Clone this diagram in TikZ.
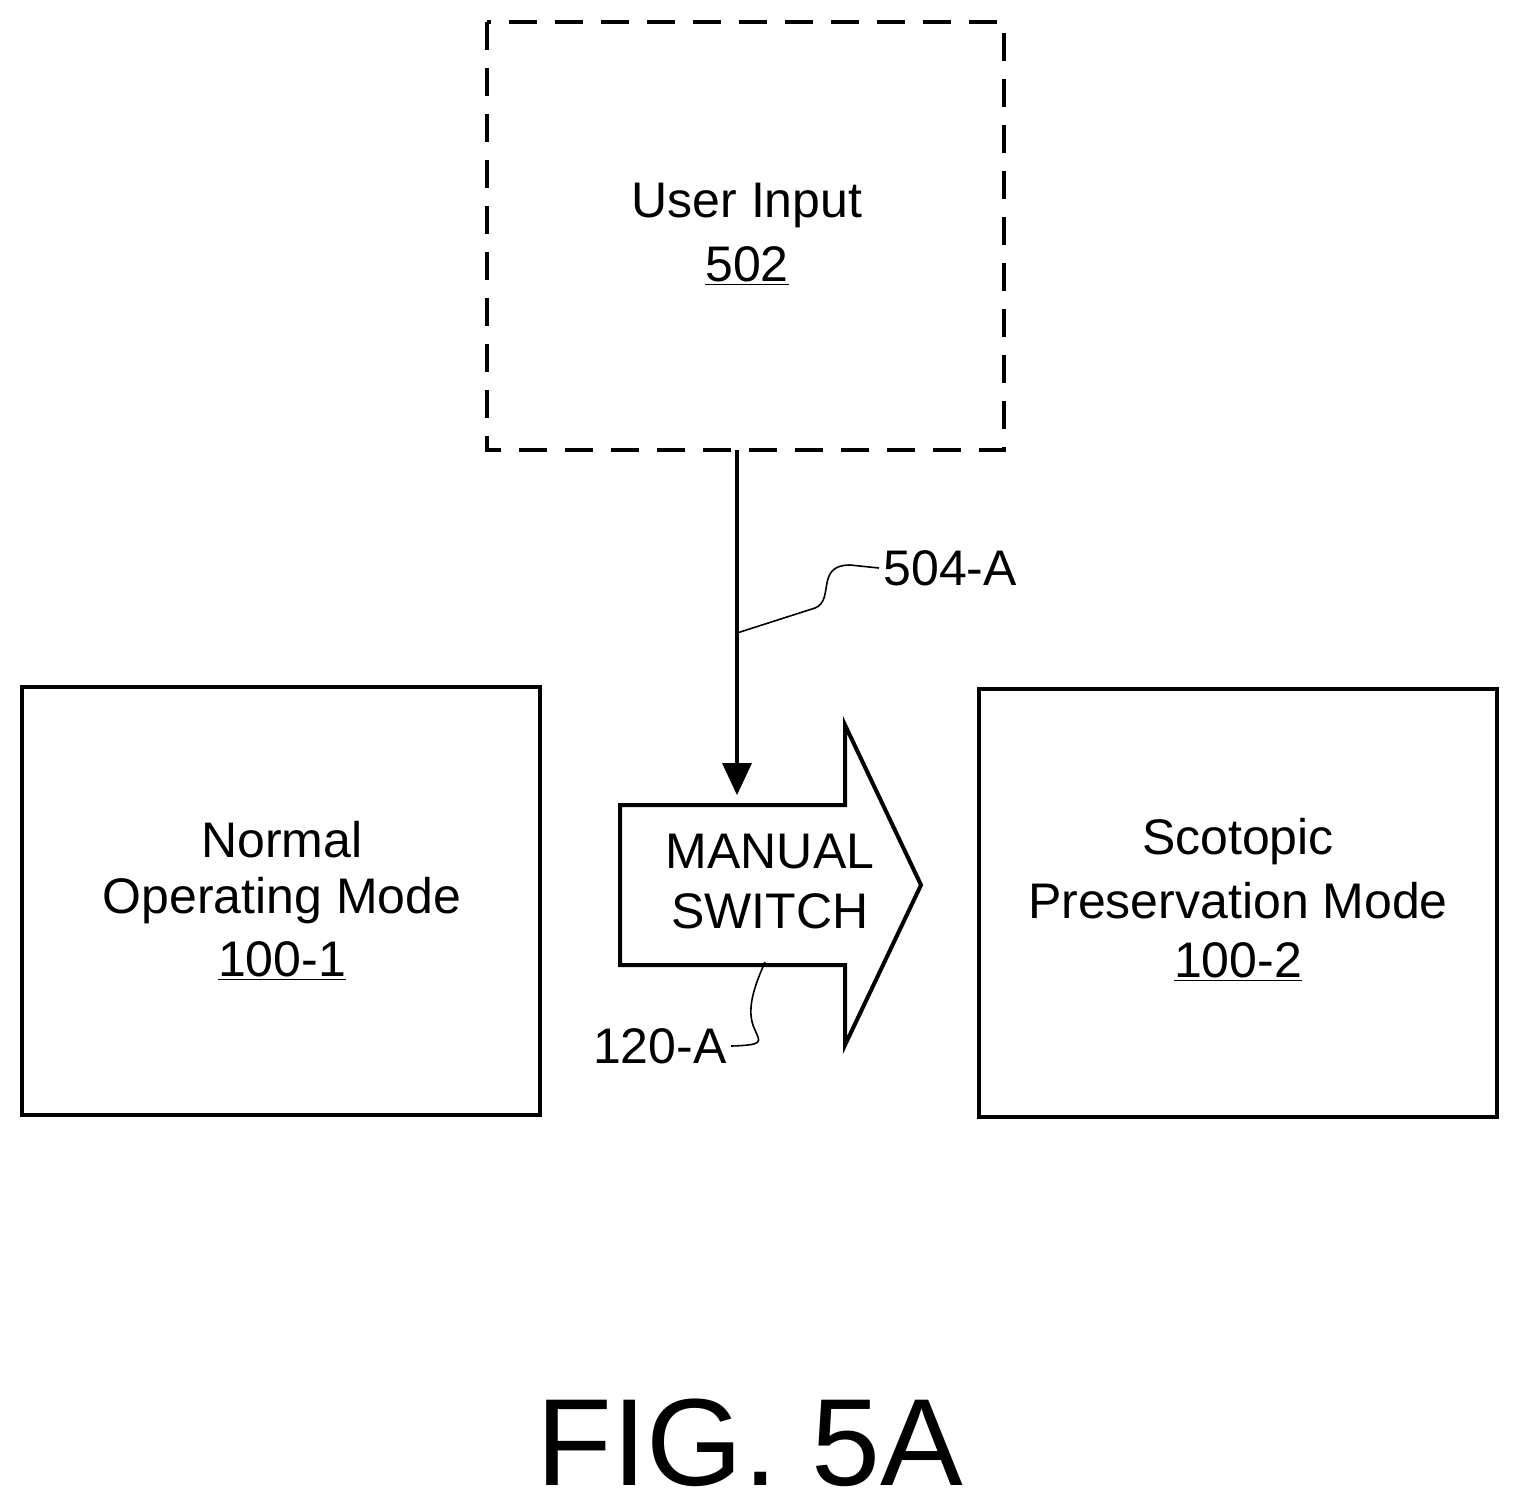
\documentclass[tikz,border=0pt]{standalone}
\usepackage{fontspec}
\setmainfont{Liberation Sans}
\begin{document}
\begin{tikzpicture}[x=0.5pt,y=-0.5pt,
  box/.style={draw,line width=2pt},
  lbl/.style={font=\fontsize{25}{29}\selectfont,inner sep=0pt},
  lead/.style={line width=0.8pt}]
\useasboundingbox (0,0) rectangle (1519,1511);
\draw[box,dash pattern=on 14pt off 9pt] (487,22) rectangle (1004,450);
\node[lbl] (ui) at (747,205) {User Input};
\node[lbl] (n502) at (747,266) {\underline{502}};
\draw[box] (22,687) rectangle (540,1115);
\node[lbl] (nm) at (282,840) {Normal};
\node[lbl] (om) at (282,901) {Operating Mode};
\node[lbl] (n1) at (282,961) {\underline{100-1}};
\draw[box] (979,689) rectangle (1497,1117);
\node[lbl] (sc) at (1238,842) {Scotopic};
\node[lbl] (pm) at (1238,901) {Preservation Mode};
\node[lbl] (n2) at (1238,962) {\underline{100-2}};
\draw[box,line join=miter] (620,805) -- (845,805) -- (845,725) -- (921,885) -- (845,1045) -- (845,965) -- (620,965) -- cycle;
\node[lbl] (man) at (770,852) {MANUAL};
\node[lbl] (sw) at (770,911) {SWITCH};
\coordinate (a0) at (737,450);
\coordinate (a1) at (737,765);
\draw[line width=2pt] (a0) -- (a1);
\fill (722,763) -- (752,763) -- (737,795) -- cycle;
\node[lbl,anchor=west] (l504) at (883,568) {504-A};
\coordinate (c504) at (737,633);
\draw[lead] (c504) -- (815,608) .. controls (835,600) and (815,565) .. (850,565) -- ([xshift=-2pt]l504.west);
\node[lbl,anchor=east] (l120) at (727,1046) {120-A};
\coordinate (c120) at (765,962);
\draw[lead] (c120) .. controls (755,985) and (745,1010) .. (755,1030) .. controls (760,1042) and (765,1045) .. ([xshift=2pt]l120.east);
\node[font=\fontsize{62}{66}\selectfont,inner sep=0pt] (fig) at (750,1443) {FIG. 5A};
\end{tikzpicture}
\end{document}
